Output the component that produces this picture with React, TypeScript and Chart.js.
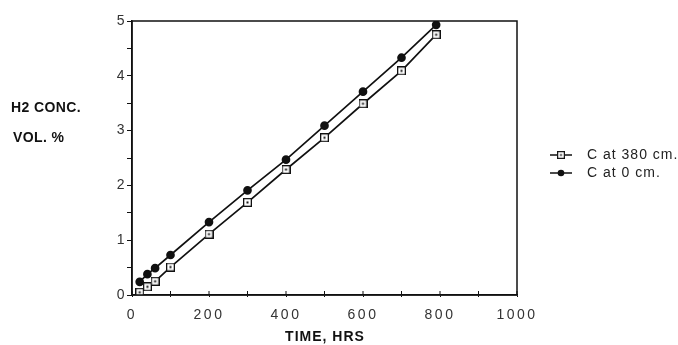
import React, { useEffect, useRef } from 'react';
import { Chart, registerables } from 'chart.js';

Chart.register(...registerables);

const hours = [20, 40, 60, 100, 200, 300, 400, 500, 600, 700, 790];
const concAt380 = [0.05, 0.15, 0.25, 0.51, 1.11, 1.69, 2.29, 2.87, 3.49, 4.09, 4.75];
const concAt0 = [0.24, 0.38, 0.49, 0.73, 1.33, 1.91, 2.47, 3.09, 3.71, 4.33, 4.93];
const seriesLabels = ['C at 380 cm.', 'C at 0 cm.'];
const xTickLabels = [0, 200, 400, 600, 800, 1000];
const yTickLabels = [0, 1, 2, 3, 4, 5];
const yTitleLines = ['H2 CONC.', 'VOL. %'];
const xTitle = 'TIME, HRS';

const FAMILY = '"Liberation Sans", Arial, sans-serif';

function makeSquare(): HTMLCanvasElement {
  const c = document.createElement('canvas');
  c.width = 9;
  c.height = 9;
  const g = c.getContext('2d')!;
  g.fillStyle = '#fff';
  g.fillRect(0, 0, 9, 9);
  g.strokeStyle = '#111';
  g.lineWidth = 1.3;
  g.strokeRect(0.65, 0.65, 7.7, 7.7);
  g.fillStyle = '#111';
  g.fillRect(3.5, 3.5, 2, 2);
  return c;
}

export default function App() {
  const ref = useRef<HTMLCanvasElement>(null);

  useEffect(() => {
    if (!ref.current) return;
    const square = makeSquare();

    const framePlugin = {
      id: 'frame',
      beforeDraw(chart: any) {
        (chart.ctx as any).letterSpacing = '2.5px';
      },
      beforeDatasetsDraw(chart: any) {
        (chart.ctx as any).letterSpacing = '0px';
      },
      afterDraw(chart: any) {
        const { ctx, chartArea: a, scales } = chart;
        ctx.save();
        ctx.letterSpacing = '0px';
        ctx.strokeStyle = '#111';
        ctx.lineWidth = 1.5;
        ctx.strokeRect(a.left, a.top, a.right - a.left, a.bottom - a.top);
        // inner x tick marks
        const xs = scales.x;
        ctx.lineWidth = 1;
        xs.ticks.forEach((t: any) => {
          const px = xs.getPixelForValue(t.value);
          ctx.beginPath();
          ctx.moveTo(px, a.bottom);
          ctx.lineTo(px, a.bottom - 4);
          ctx.stroke();
        });
        // y title (horizontal, two lines)
        ctx.fillStyle = '#111';
        ctx.font = `bold 14px ${FAMILY}`;
        ctx.letterSpacing = '0.4px';
        ctx.textAlign = 'left';
        ctx.textBaseline = 'middle';
        ctx.fillText(yTitleLines[0], 11, 108);
        ctx.fillText(yTitleLines[1], 13, 138);
        // x title
        ctx.letterSpacing = '1px';
        ctx.textAlign = 'center';
        ctx.fillText(xTitle, (a.left + a.right) / 2 + 0.5, 337);
        // legend
        const lx = 550;
        const rows = [155, 173];
        ctx.font = `14px ${FAMILY}`;
        ctx.textAlign = 'left';
        rows.forEach((y, i) => {
          ctx.strokeStyle = '#111';
          ctx.lineWidth = 1.5;
          ctx.beginPath();
          ctx.moveTo(lx, y);
          ctx.lineTo(lx + 22, y);
          ctx.stroke();
          if (i === 0) {
            ctx.drawImage(square, lx + 7, y - 4, 8, 8);
          } else {
            ctx.fillStyle = '#111';
            ctx.beginPath();
            ctx.arc(lx + 11, y, 3.3, 0, Math.PI * 2);
            ctx.fill();
          }
          ctx.fillStyle = '#222';
          ctx.letterSpacing = '1px';
          ctx.fillText(seriesLabels[i], 587, y);
        });
        ctx.restore();
      },
    };

    const chart = new Chart(ref.current, {
      type: 'line',
      data: {
        datasets: [
          {
            label: seriesLabels[0],
            data: hours.map((h, i) => ({ x: h, y: concAt380[i] })),
            borderColor: '#111',
            borderWidth: 1.7,
            pointStyle: square as any,
            pointRadius: 4,
            backgroundColor: '#fff',
          },
          {
            label: seriesLabels[1],
            data: hours.map((h, i) => ({ x: h, y: concAt0[i] })),
            borderColor: '#111',
            borderWidth: 1.7,
            pointStyle: 'circle',
            pointRadius: 3.5,
            pointBackgroundColor: '#111',
            pointBorderColor: '#111',
            backgroundColor: '#111',
          },
        ],
      },
      options: {
        responsive: false,
        animation: false,
        layout: { padding: { top: 21, right: 161, left: 0, bottom: 0 } },
        plugins: {
          legend: { display: false },
          tooltip: { enabled: false },
        },
        scales: {
          x: {
            type: 'linear',
            min: 0,
            max: 1000,
            afterFit: (s: any) => {
              s.height = 50;
            },
            ticks: {
              stepSize: 100,
              autoSkip: false,
              maxRotation: 0,
              padding: 10,
              color: '#333',
              font: { family: FAMILY, size: 14 },
              callback: (v: any) => (xTickLabels.includes(Number(v)) ? String(v) : ''),
            },
            grid: {
              drawOnChartArea: false,
              drawTicks: true,
              tickLength: 2,
              color: '#111',
            },
            border: { display: true, color: '#111', width: 1.5 },
          },
          y: {
            type: 'linear',
            min: 0,
            max: 5,
            afterFit: (s: any) => {
              s.width = 132;
            },
            ticks: {
              stepSize: 0.5,
              autoSkip: false,
              padding: 0,
              color: '#333',
              font: { family: FAMILY, size: 14 },
              callback: (v: any) => (yTickLabels.includes(Number(v)) ? String(v) : ''),
            },
            grid: {
              drawOnChartArea: false,
              drawTicks: true,
              tickLength: 5,
              color: '#111',
            },
            border: { display: true, color: '#111', width: 1.5 },
          },
        },
      },
      plugins: [framePlugin],
    });

    return () => chart.destroy();
  }, []);

  return (
    <div style={{ position: 'absolute', left: 0, top: 0, width: 678, height: 345, background: '#fff' }}>
      <canvas ref={ref} width={678} height={345} style={{ display: 'block' }} />
    </div>
  );
}
